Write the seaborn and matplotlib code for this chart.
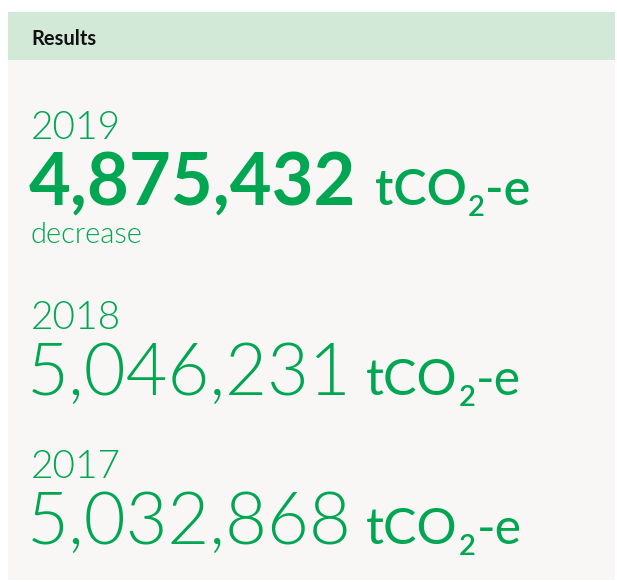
import matplotlib
matplotlib.use("Agg")
from matplotlib import pyplot as plt
from matplotlib.patches import Rectangle
import seaborn as sns

# values shown on the card
title = "Results"
years = ["2019", "2018", "2017"]
emissions = [4875432, 5046231, 5032868]
notes = ["decrease", "", ""]
unit_parts = ["tCO", "2", "-e"]

sns.set_theme(style="white")
plt.rcParams['font.family'] = ['Lato', 'DejaVu Sans']

GREEN = sns.color_palette(["#00a651"])[0]
HEADER = "#d3e9d8"
BODY = "#f8f7f5"

W, H = 617, 582
fig = plt.figure(figsize=(W / 100, H / 100), dpi=100)
ax = fig.add_axes([0, 0, 1, 1])
ax.set_xlim(0, W)
ax.set_ylim(H, 0)
ax.axis('off')

ax.add_patch(Rectangle((8, 12), W - 10, 48, color=HEADER, lw=0))
ax.add_patch(Rectangle((8, 60), W - 10, H - 62, color=BODY, lw=0))
ax.text(31, 45, title, fontsize=14.5, fontweight='bold', color='#111111', va='baseline')

fig.canvas.draw()
renderer = fig.canvas.get_renderer()


def right_edge(t):
    return t.get_window_extent(renderer).x1


y = 139
for i, (yr, val, note) in enumerate(zip(years, emissions, notes)):
    bold = i == 0
    uw = 600 if bold else 400
    ax.text(31, y, yr, fontsize=28, fontweight=300, color=GREEN, va='baseline')
    ny = y + 66
    num = ax.text(29 if bold else 27, ny, f"{val:,}", fontsize=52,
                  fontweight=700 if bold else 300, color=GREEN, va='baseline')
    x = right_edge(num) + (18 if bold else 14)
    t1 = ax.text(x, ny, unit_parts[0], fontsize=36, color=GREEN, va='baseline', fontweight=uw)
    x = right_edge(t1) + 1
    t2 = ax.text(x, ny + 11, unit_parts[1], fontsize=21, color=GREEN, va='baseline', fontweight=600)
    x = right_edge(t2) + 1
    ax.text(x, ny, unit_parts[2], fontsize=36, color=GREEN, va='baseline', fontweight=uw)
    if note:
        ax.text(31, ny + 38, note, fontsize=21, fontweight=300, color=GREEN, va='baseline')
        y += 190
    else:
        y += 149

plt.savefig("out.png", dpi=100, facecolor="white")
